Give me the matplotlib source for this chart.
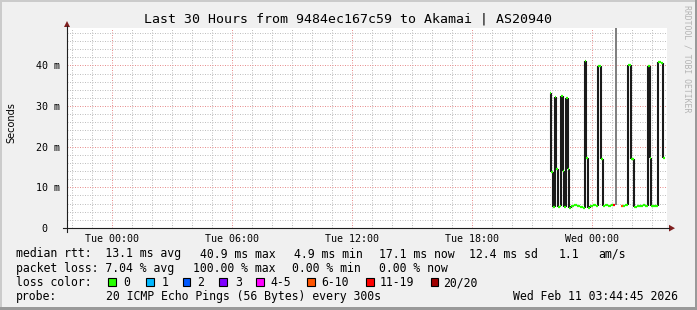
import numpy as np
import matplotlib
matplotlib.use("Agg")
import matplotlib.pyplot as plt
from matplotlib.patches import Rectangle, Polygon
from matplotlib.lines import Line2D

W, H = 697, 310
MONO = "DejaVu Sans Mono"

# median rtt, one entry per step: start (hours after Tue 00:00), value (ms), loss class
step_start_h = [21.89, 21.98, 22.07, 22.14, 22.23, 22.31, 22.39, 22.47, 22.54, 22.63,
                22.72, 22.79, 22.87, 22.97, 23.12, 23.27, 23.42, 23.54, 23.64, 23.72,
                23.80, 23.92, 24.07, 24.19, 24.29, 24.46, 24.54, 24.67, 24.82, 24.94,
                25.04, 25.17, 25.27, 25.47, 25.54, 25.67, 25.79, 25.97, 26.13, 26.27,
                26.42, 26.57, 26.67, 26.79, 26.89, 26.98, 27.12, 27.29, 27.47, 27.54]
step_end_h = 27.66
median_ms = [33.2, 13.8, 5.2, 32.3, 14.4, 5.1, 5.4, 32.4, 14.0, 5.2,
             32.0, 14.4, 5.0, 5.4, 5.6, 5.5, 5.2, 5.0, 41.0, 17.1,
             5.0, 5.3, 5.6, 5.4, 39.9, 17.0, 5.3, 5.6, 5.5, 5.6,
             5.6, np.nan, np.nan, 5.5, 5.3, 5.6, 40.0, 16.9, 5.2, 5.5,
             5.3, 5.6, 5.4, 39.9, 17.1, 5.3, 5.5, 40.9, 40.6, 17.1]
step_loss = ["0"] * 30 + ["11-19", "20/20", "", "6-10"] + ["0"] * 16

loss_labels = ["0", "1", "2", "3", "4-5", "6-10", "11-19", "20/20"]
loss_colors = ["#26ff00", "#00b8ff", "#0059ff", "#7e00ff", "#ff00ff", "#ff5500", "#ff0000", "#a00000"]

x_ticks = [0, 6, 12, 18, 24]
x_tick_labels = ["Tue 00:00", "Tue 06:00", "Tue 12:00", "Tue 18:00", "Wed 00:00"]
y_ticks = [0, 10, 20, 30, 40]
y_tick_labels = ["0\u00a0\u00a0", "10 m", "20 m", "30 m", "40 m"]

title = "Last 30 Hours from 9484ec167c59 to Akamai | AS20940"
rtt_items = ["median rtt:  13.1 ms avg", "40.9 ms max", "4.9 ms min", "17.1 ms now",
             "12.4 ms sd", "1.1", "am/s"]
loss_items = ["packet loss: 7.04 % avg", "100.00 % max", "0.00 % min", "0.00 % now"]
probe_text = "20 ICMP Echo Pings (56 Bytes) every 300s"
stamp = "Wed Feb 11 03:44:45 2026"


def fx(x):
    return x / W


def fy(y):
    return 1 - y / H


fig = plt.figure(figsize=(W / 100, H / 100), dpi=100, facecolor="#f0f0f0")

# 3d frame of the rrdtool canvas
fig.add_artist(Rectangle((0, fy(2)), 1, 2 / H, transform=fig.transFigure, color="#cbcbcb", lw=0))
fig.add_artist(Rectangle((0, 0), 2 / W, 1, transform=fig.transFigure, color="#cbcbcb", lw=0))
fig.add_artist(Rectangle((0, 0), 1, 3 / H, transform=fig.transFigure, color="#999999", lw=0))
fig.add_artist(Rectangle((fx(W - 2), 0), 2 / W, 1, transform=fig.transFigure, color="#999999", lw=0))

ax = fig.add_axes([fx(67), fy(228), 600 / W, 200 / H], facecolor="white")
ymax = 1.2 * np.nanmax(median_ms)
ax.set_xlim(-2.235, 27.765)
ax.set_ylim(0, ymax)

ax.set_xticks(x_ticks, x_tick_labels)
ax.set_xticks(np.arange(-2, 28, 1), minor=True)
ax.set_yticks(y_ticks, y_tick_labels)
ax.set_yticks(np.arange(0, ymax, 2), minor=True)
ax.tick_params(which="both", length=0)
ax.tick_params(axis="x", pad=4)
ax.tick_params(axis="y", pad=5)
for lab in ax.get_xticklabels() + ax.get_yticklabels():
    lab.set_fontfamily(MONO)
    lab.set_fontsize(7.2)

ax.grid(which="minor", color="#c0c0c0", lw=0.72, linestyle=(0, (1, 1.5)))
ax.grid(which="major", color="#e89090", lw=0.72, linestyle=(0, (1, 1.5)))
ax.set_axisbelow(True)
for side in ax.spines:
    ax.spines[side].set_visible(False)

# median steps
n = len(median_ms)
ends = step_start_h[1:] + [step_end_h]
color_of = dict(zip(loss_labels, loss_colors))
for i in range(n - 1):
    a, b = median_ms[i], median_ms[i + 1]
    if np.isfinite(a) and np.isfinite(b) and a != b:
        ax.vlines(step_start_h[i + 1], min(a, b), max(a, b), color="#1a1a1a", lw=1.5, zorder=3)
for i in range(n):
    v = median_ms[i]
    if step_loss[i] == "20/20":
        base = median_ms[i - 1]
        ax.bar(step_start_h[i], ymax - base, bottom=base, width=ends[i] - step_start_h[i],
               align="edge", color="#808080", lw=0, zorder=3)
    elif np.isfinite(v):
        ax.hlines(v, step_start_h[i], ends[i], color=color_of[step_loss[i]], lw=1.6, zorder=4)

# axis lines and arrows
axis_c, arrow_c = "#1f1f1f", "#7f1f1f"
fig.add_artist(Line2D([fx(63), fx(669)], [fy(228), fy(228)], transform=fig.transFigure, color=axis_c, lw=0.8))
fig.add_artist(Line2D([fx(67), fx(67)], [fy(232), fy(26)], transform=fig.transFigure, color=axis_c, lw=0.8))
fig.add_artist(Polygon([(fx(669), fy(224.8)), (fx(669), fy(231.5)), (fx(675), fy(228.2))],
                       transform=fig.transFigure, color=arrow_c, lw=0))
fig.add_artist(Polygon([(fx(64), fy(27)), (fx(70), fy(27)), (fx(67), fy(21))],
                       transform=fig.transFigure, color=arrow_c, lw=0))

# texts
fig.text(fx(348), fy(19), title, ha="center", va="center", family=MONO, fontsize=9.55)
fig.text(fx(11), fy(122.5), "Seconds", rotation=90, ha="center", va="center", fontsize=7)
fig.text(fx(687.5), fy(59), "RRDTOOL / TOBI OETIKER", rotation=-90, ha="center", va="center",
         family=MONO, fontsize=5.9, color="#b4b4b4")

lk = dict(family=MONO, fontsize=8.3, va="baseline", ha="left")
row_y = [257.5, 271.8, 286.1, 300.3]
for x, s in zip([16, 200, 294, 379.3, 469.3, 558.3, 598.3], rtt_items):
    fig.text(fx(x), fy(row_y[0]), s, **lk)
for x, s in zip([16, 193.3, 292.3, 379.3], loss_items):
    fig.text(fx(x), fy(row_y[1]), s, **lk)
fig.text(fx(16), fy(row_y[2]), "loss color:", **lk)
label_x = [123.3, 162, 197.3, 235, 270, 321.7, 379.3, 443.3]
box_x = [108.3, 146, 182.7, 219.3, 256, 307.3, 366, 430.7]
for bx, lx, lab, col in zip(box_x, label_x, loss_labels, loss_colors):
    fig.add_artist(Rectangle((fx(bx), fy(286)), 7.5 / W, 7.8 / H, transform=fig.transFigure,
                             facecolor=col, edgecolor="black", lw=0.8))
    fig.text(fx(lx), fy(row_y[2]), lab, **lk)
fig.text(fx(16), fy(row_y[3]), "probe:", **lk)
fig.text(fx(106.5), fy(row_y[3]), probe_text, **lk)
fig.text(fx(513.3), fy(row_y[3]), stamp, **lk)

fig.savefig("out.png", dpi=100, facecolor=fig.get_facecolor())
